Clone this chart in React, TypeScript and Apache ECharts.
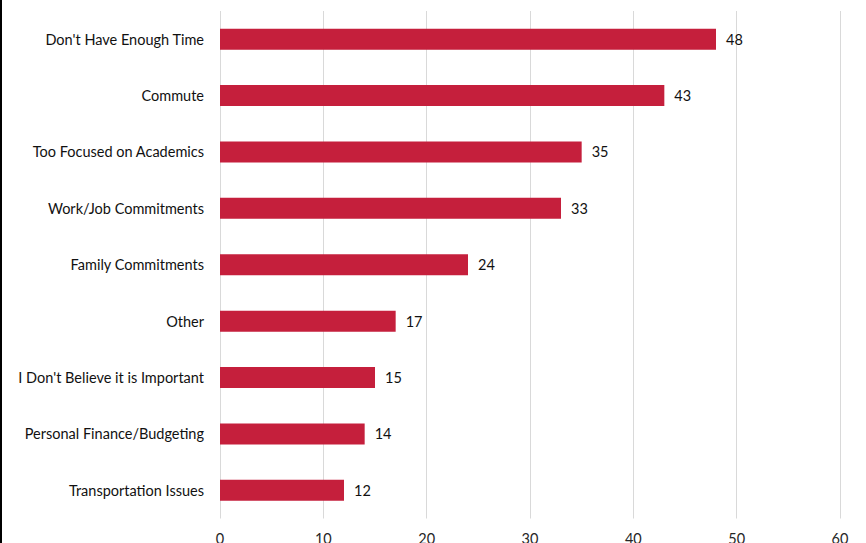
import React, { useEffect, useRef } from "react";
import * as echarts from "echarts";

const categories = [
  "Don't Have Enough Time",
  "Commute",
  "Too Focused on Academics",
  "Work/Job Commitments",
  "Family Commitments",
  "Other",
  "I Don't Believe it is Important",
  "Personal Finance/Budgeting",
  "Transportation Issues",
];
const values = [48, 43, 35, 33, 24, 17, 15, 14, 12];
const xTicks = [0, 10, 20, 30, 40, 50, 60];

const FONT = "Lato";
const FS = 14.5;

export default function App() {
  const ref = useRef<HTMLDivElement>(null);
  useEffect(() => {
    if (!ref.current) return;
    const chart = echarts.init(ref.current, undefined, { renderer: "svg" });
    chart.setOption({
      animation: false,
      backgroundColor: "#ffffff",
      grid: {
        left: 220,
        right: 26,
        top: 11,
        bottom: 24.5,
        containLabel: false,
        outerBoundsMode: "none",
      },
      xAxis: {
        type: "value",
        min: xTicks[0],
        max: xTicks[xTicks.length - 1],
        interval: 10,
        axisLine: { show: false },
        axisTick: { show: false },
        splitLine: { show: true, lineStyle: { color: "#d9d9d9", width: 1 } },
        axisLabel: { color: "#262626", fontFamily: FONT, fontSize: FS, margin: 12 },
      },
      yAxis: {
        type: "category",
        data: categories,
        inverse: true,
        axisLine: { show: false },
        axisTick: { show: false },
        axisLabel: { color: "#111111", fontFamily: FONT, fontSize: FS, margin: 16 },
      },
      series: [
        {
          type: "bar",
          data: values,
          barWidth: 21,
          itemStyle: { color: "#C51F3C" },
          label: {
            show: true,
            position: "right",
            distance: 10,
            color: "#111111",
            fontFamily: FONT,
            fontSize: FS,
          },
        },
      ],
      graphic: [
        { type: "rect", left: 0, top: 0, shape: { width: 2, height: 543 }, style: { fill: "#000" } },
      ],
    });
    return () => chart.dispose();
  }, []);
  return (
    <div
      ref={ref}
      style={{ position: "fixed", left: 0, top: 0, width: 866, height: 543 }}
    />
  );
}
